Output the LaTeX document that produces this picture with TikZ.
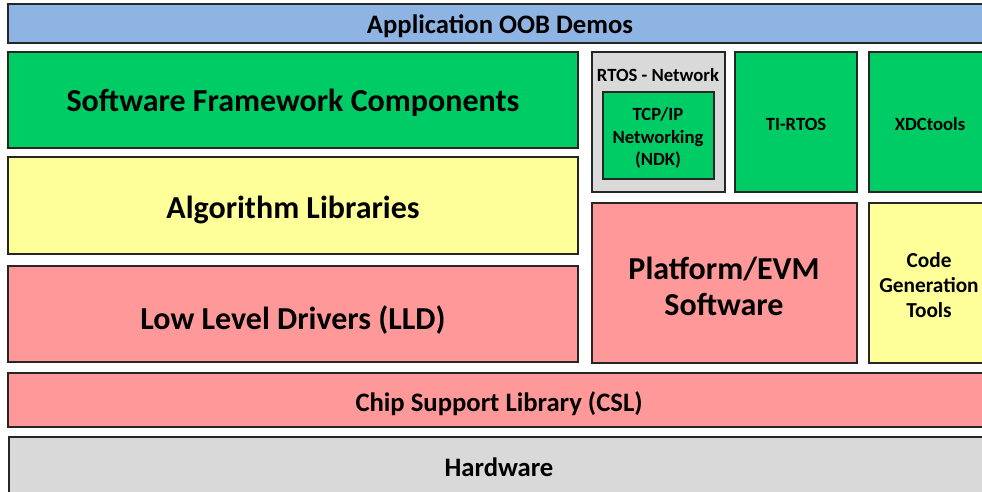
\documentclass[tikz,border=0pt]{standalone}
\usepackage{fontspec}
\setmainfont{Carlito}
\usepackage{tikz}

\definecolor{oobblue}{HTML}{8EB4E3}
\definecolor{fwgreen}{HTML}{00CC66}
\definecolor{algyellow}{HTML}{FFFF99}
\definecolor{drvpink}{HTML}{FF9999}
\definecolor{hwgray}{HTML}{D9D9D9}

\tikzset{
  layer/.style={draw={rgb,255:red,38;green,38;blue,38}, line width=1.3pt},
  bigtext/.style={font=\bfseries\fontsize{24}{27}\selectfont, align=center, inner sep=0.75pt},
  midtext/.style={font=\bfseries\fontsize{20}{23}\selectfont, align=center, inner sep=0.75pt},
  smalltext/.style={font=\bfseries\fontsize{14}{17}\selectfont, align=center, inner sep=0.75pt}
}

\begin{document}
\begin{tikzpicture}[x=0.75pt,y=0.75pt,yscale=-1,xscale=1]
        \useasboundingbox (0,0) rectangle (982,492);
        \clip (0,0) rectangle (982,492);

        %Top row
        \draw [layer, fill=oobblue] (8,4) rectangle (995,43);
        %Left stack
        \draw [layer, fill=fwgreen] (8,52) rectangle (578,148);
        \draw [layer, fill=algyellow] (8,157) rectangle (578,254);
        \draw [layer, fill=drvpink] (8,266) rectangle (578,362);
        %RTOS group
        \draw [layer, fill=hwgray] (592,52) rectangle (725,192);
        \draw [layer, fill=fwgreen] (603,92) rectangle (714,179);
        \draw [layer, fill=fwgreen] (735,52) rectangle (857,192);
        \draw [layer, fill=fwgreen] (869,52) rectangle (995,192);
        %Platform and tools
        \draw [layer, fill=drvpink] (592,203) rectangle (857,363);
        \draw [layer, fill=algyellow] (869,203) rectangle (995,363);
        %Bottom rows
        \draw [layer, fill=drvpink] (8,373) rectangle (995,427);
        \draw [layer, fill=hwgray] (9,437) rectangle (995,497);

        % Text Nodes
        \node (oob) [midtext] at (500,26) {Application OOB Demos};
        \node (sfc) [bigtext] at (293,103) {Software Framework Components};
        \node (alg) [bigtext] at (293,210) {Algorithm Libraries};
        \node (lld) [bigtext] at (293,320) {Low Level Drivers (LLD)};
        \node (rtosnet) [smalltext] at (658,75) {RTOS - Network};
        \node (ndk) [smalltext] at (658,138) {TCP/IP\\Networking\\(NDK)};
        \node (tirtos) [smalltext] at (796,124) {TI-RTOS};
        \node (xdc) [smalltext] at (930,124) {XDCtools};
        \node (evm) [bigtext] at (724,286) {Platform/EVM\\Software};
        \node (cgt) [midtext, font=\bfseries\fontsize{16}{19}\selectfont] at (929,285) {Code\\Generation\\Tools};
        \node (csl) [midtext] at (499,404) {Chip Support Library (CSL)};
        \node (hw) [midtext] at (499,467) {Hardware};

\end{tikzpicture}
\end{document}
